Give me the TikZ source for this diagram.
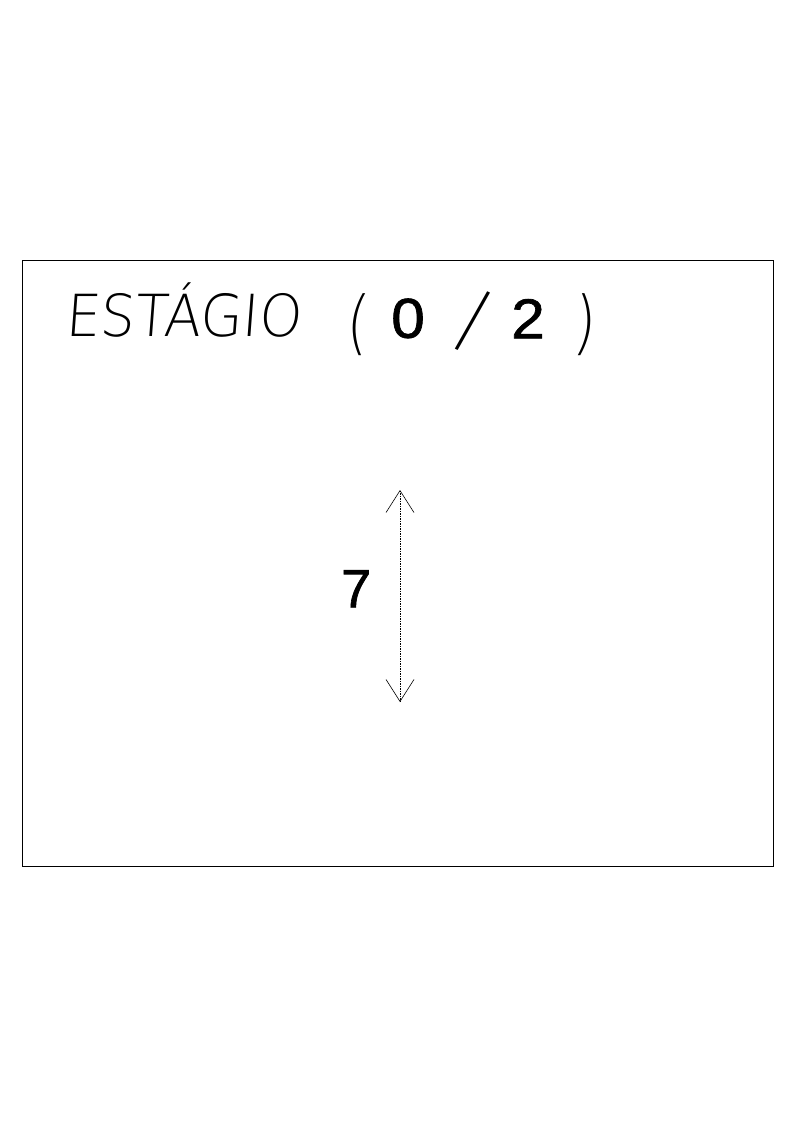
\documentclass[tikz,border=0pt]{standalone}
\usepackage{fontspec}
\setmainfont{Liberation Sans}
\newfontfamily\thinfont{DejaVu Sans ExtraLight}[FakeSlant=0.08]
\newfontfamily\digitfont{Liberation Sans}[FakeBold=1.2]
\usetikzlibrary{arrows.meta}
\tikzset{
  frame/.style={draw, line width=0.6pt},
  thintext/.style={inner sep=0pt, anchor=south west, font=\thinfont\fontsize{58}{58}\selectfont},
  bigtext/.style={inner sep=0pt, anchor=south west, font=\digitfont\fontsize{54}{54}\selectfont},
  dimline/.style={densely dashed, dash pattern=on 1.5pt off 1pt, line width=0.5pt,
    {Straight Barb[length=22pt,width=28pt,line width=0.6pt]}-{Straight Barb[length=22pt,width=28pt,line width=0.6pt]}}
}
\begin{document}
\begin{tikzpicture}[x=1pt,y=-1pt]
\useasboundingbox (0,0) rectangle (794,1122);
\draw[frame] (22,260) rectangle (773,866);
\node[thintext, xscale=0.94] (title) at (65,338) {ESTÁGIO};
\node[thintext, yscale=1.2] (lp) at (345,356) {(};
\node[bigtext, xscale=1.12, yscale=1.04] (zero) at (391,338.5) {0};
\node[thintext, anchor=center, yscale=1.45, rotate=-18] (sl) at (471,320) {/};
\node[bigtext, xscale=1.12, yscale=1.04] (two) at (511,338.5) {2};
\node[thintext, yscale=1.2] (rp) at (572,356) {)};
\coordinate (top) at (400,490);
\coordinate (bot) at (400,702);
\draw[dimline] (top) -- (bot);
\node[bigtext] (seven) at (341,607.5) {7};
\end{tikzpicture}
\end{document}
